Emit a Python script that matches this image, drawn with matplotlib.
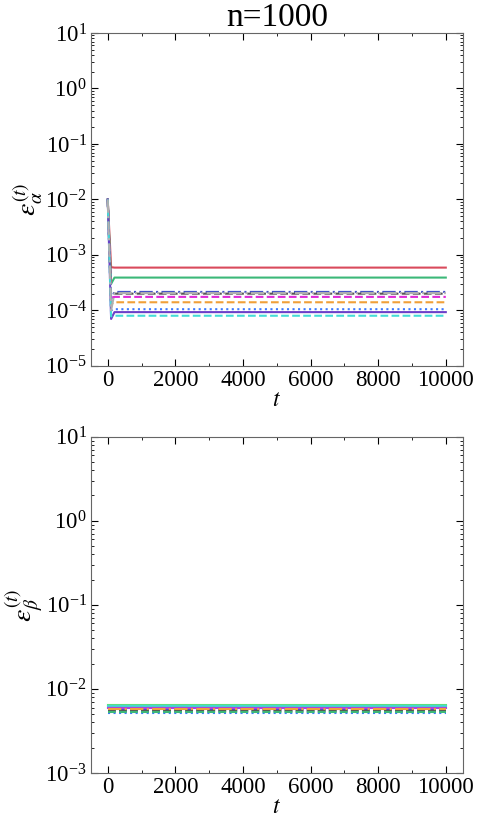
import numpy as np
import matplotlib.pyplot as plt

plt.rcParams['font.family'] = 'Liberation Serif'
plt.rcParams['mathtext.fontset'] = 'stix'

# tempi (punti del transitorio + regime)
t = [0, 100, 200, 10000]

# errore alpha: valore iniziale, minimo/massimo del transitorio, valore finale
alpha_start = 1e-2
alpha_mid = [6.0e-4, 3.0e-4, 1.6e-4, 1.9e-4, 1.7e-4, 1.3e-4, 1.0e-4, 7.0e-5, 7.8e-5, 1.0e-4]
alpha_end = [5.9e-4, 3.9e-4, 2.15e-4, 2.0e-4, 1.75e-4, 1.4e-4, 1.05e-4, 9.3e-5, 8.0e-5, 2.05e-4]

# errore beta (praticamente costante)
beta_val = [6.4e-3, 6.2e-3, 6.0e-3, 5.8e-3, 5.6e-3, 5.5e-3, 5.2e-3, 5.9e-3, 5.3e-3, 5.7e-3]

colori = ['#d94a5c', '#3cb878', '#4452c8', '#555555', '#e02ad8',
          '#f0a03a', '#3a78ff', '#6b3fc8', '#44dcd8', '#b0b0b0']
stili = ['-', '-', '-.', '--', '--', '--', ':', '-', '--', '-.']
beta_colori = ['#5fe07a', '#44d8d0', '#e02ad8', '#7a3fd0', '#4452c8',
               '#555555', '#3a78ff', '#b040e0', '#3cb878', '#f0a03a']

fig = plt.figure(figsize=(4.78, 8.24), dpi=100)
ax1 = fig.add_axes([0.19, 0.556, 0.778, 0.404])
ax2 = fig.add_axes([0.19, 0.062, 0.778, 0.408])

for i in range(len(alpha_end)):
    y = [alpha_start, alpha_mid[i], alpha_end[i], alpha_end[i]]
    ax1.plot(t, y, color=colori[i], linestyle=stili[i], linewidth=1.5)

for i in range(len(beta_val)):
    ax2.plot([0, 10000], [beta_val[i], beta_val[i]], color=beta_colori[i],
             linestyle=stili[i], linewidth=1.5)

for ax in (ax1, ax2):
    ax.set_yscale('log')
    ax.set_xlim(-500, 10500)
    ax.set_xticks([0, 2000, 4000, 6000, 8000, 10000])
    ax.set_xticks(np.arange(0, 10001, 1000), minor=True)
    ax.tick_params(which='both', direction='in', top=True, right=True, labelsize=16.5)
    ax.tick_params(which='major', length=5, pad=3)
    ax.tick_params(which='minor', length=2.5)
    ax.set_xlabel('$t$', fontsize=17, labelpad=-1)
    for s in ax.spines.values():
        s.set_color('#666666')

ax1.set_ylim(1e-5, 10)
ax2.set_ylim(1e-3, 10)
ax1.set_ylabel(r'$\varepsilon_{\alpha}^{(t)}$', fontsize=20, labelpad=0)
ax2.set_ylabel(r'$\varepsilon_{\beta}^{(t)}$', fontsize=20, labelpad=0)
ax1.set_title('n=1000', fontsize=24, pad=3)

fig.savefig('out.png', dpi=100)
